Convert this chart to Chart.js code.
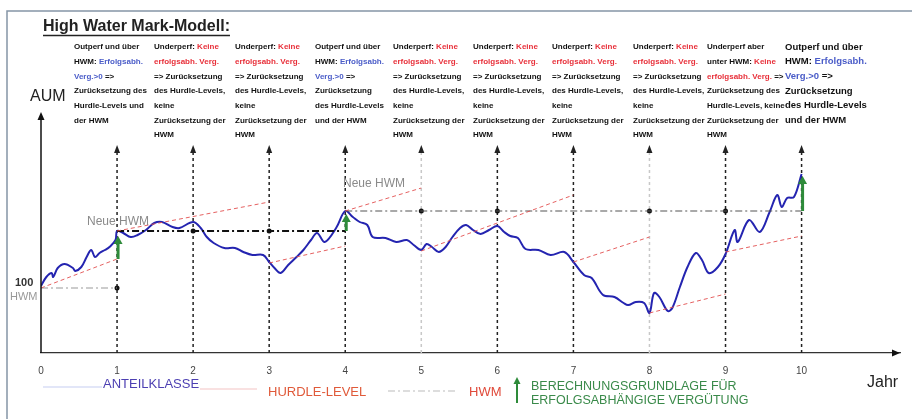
<!DOCTYPE html>
<html>
<head>
<meta charset="utf-8">
<script src="https://cdn.jsdelivr.net/npm/chart.js@4.4.1/dist/chart.umd.min.js"></script>
<style>
  html, body { margin: 0; padding: 0; background: #fff; }
  #wrap { width: 912px; height: 419px; position: relative; }
</style>
</head>
<body>
<div id="wrap"><canvas id="hwmChart"></canvas></div>
<script>
// years on the x axis
var yearTicks = [0, 1, 2, 3, 4, 5, 6, 7, 8, 9, 10];

// fund value (ANTEILKLASSE)
var curveYears = [0, 0.07, 0.14, 0.16, 0.22, 0.31, 0.42, 0.45, 0.53, 0.60, 0.66, 0.71, 0.77, 0.84, 0.90, 0.98, 1.0,
  1.08, 1.18, 1.27, 1.38, 1.49, 1.59, 1.73, 1.82, 2.0,
  2.10, 2.18, 2.27, 2.41, 2.55, 2.66, 2.78, 2.92, 3.0,
  3.07, 3.15, 3.25, 3.36, 3.45, 3.55, 3.63, 3.73, 3.88, 4.0,
  4.10, 4.19, 4.29, 4.36, 4.53, 4.67, 4.81, 4.90, 5.0,
  5.07, 5.14, 5.23, 5.32, 5.41, 5.51, 5.59, 5.68, 5.78, 5.89, 6.0,
  6.09, 6.17, 6.27, 6.37, 6.54, 6.70, 6.88, 7.0,
  7.14, 7.24, 7.39, 7.54, 7.66, 7.72, 7.82, 7.93, 8.0,
  8.06, 8.13, 8.24, 8.30, 8.40, 8.50, 8.61, 8.69, 8.78, 8.90, 9.0,
  9.12, 9.16, 9.31, 9.45, 9.58, 9.68, 9.74, 9.81, 9.90, 10.0];
var curveAUM = [101, 105.5, 107.5, 105.5, 110, 112, 110, 108.5, 110.5, 115.5, 119, 115.5, 117.5, 119, 120.5, 124, 128.5,
  127.5, 125.5, 126.5, 129, 132.5, 133, 130.5, 130, 133,
  130, 125.5, 122.5, 120, 120, 118, 116.5, 116.5, 113,
  110, 107.5, 111.5, 115.5, 119, 124, 127.5, 123, 130, 138.5,
  135.5, 133, 131.5, 125.5, 125, 123, 124, 121.5, 119,
  122, 120.5, 118, 120.5, 125.5, 130, 131.5, 129, 127, 129, 131,
  128, 126, 125, 119.5, 119, 116.5, 118, 113,
  106.5, 105, 96.5, 95.5, 92.5, 91.5, 93, 92.5, 87.5,
  97.5, 95.5, 88.5, 90, 100.5, 110.5, 117.5, 114, 107.5, 110.5, 117,
  129, 123, 134, 128, 138, 146.5, 140.5, 145, 145.5, 157];

// hurdle level segments
var hurdleStartYear = [0, 1, 3, 4, 5, 7, 8, 9];
var hurdleStartAUM = [100, 128.5, 112.5, 138.5, 118.5, 113, 87.5, 118];
var hurdleEndYear = [1, 3, 4, 5, 7, 8, 9, 10];
var hurdleEndAUM = [114.5, 143, 121, 150, 146.5, 125.5, 97, 126];

// high water mark
var hwmStartYear = [0, 1, 4];
var hwmEndYear = [1, 4, 10];
var hwmLevel = [100, 128.5, 138.5];
var hwmDotYears = [1, 2, 3, 5, 6, 8, 9];
var hwmDotAUM = [100, 128.5, 128.5, 138.5, 138.5, 138.5, 138.5];

// basis for performance fee (green arrows)
var feeYears = [1, 4, 10];
var feeFrom = [114.5, 128.5, 138.5];
var feeTo = [126, 137, 156];

// yearly marker lines
var markYears = [1, 2, 3, 4, 5, 6, 7, 8, 9, 10];
var markFaint = [5, 8];
var markTopAUM = 170;

var K = '#111', B = '#4a5cc8', R = '#e8303a';
var outperfA = [[['Outperf und über', K]], [['HWM: ', K], ['Erfolgsabh.', B]], [['Verg.>0', B], [' =>', K]],
  [['Zurücksetzung des', K]], [['Hurdle-Levels und', K]], [['der HWM', K]]];
var outperfB = [[['Outperf und über', K]], [['HWM: ', K], ['Erfolgsabh.', B]], [['Verg.>0', B], [' =>', K]],
  [['Zurücksetzung', K]], [['des Hurdle-Levels', K]], [['und der HWM', K]]];
var underperf = [[['Underperf: ', K], ['Keine', R]], [['erfolgsabh. Verg.', R]], [['=> Zurücksetzung', K]],
  [['des Hurdle-Levels,', K]], [['keine', K]], [['Zurücksetzung der', K]], [['HWM', K]]];
var underHwm = [[['Underperf aber', K]], [['unter HWM: ', K], ['Keine', R]], [['erfolgsabh. Verg.', R], [' =>', K]],
  [['Zurücksetzung des', K]], [['Hurdle-Levels, keine', K]], [['Zurücksetzung der', K]], [['HWM', K]]];
var notes = [outperfA, underperf, underperf, outperfB, underperf, underperf, underperf, underperf, underHwm, outperfB];
var noteX = [74, 154, 235, 315, 393, 473, 552, 633, 707, 785];

function pts(xs, ys) {
  return xs.map(function (x, i) { return { x: x, y: ys[i] }; });
}

var datasets = [];
hurdleStartYear.forEach(function (y0, i) {
  datasets.push({
    data: [{ x: y0, y: hurdleStartAUM[i] }, { x: hurdleEndYear[i], y: hurdleEndAUM[i] }],
    borderColor: 'rgba(226,80,80,0.9)', borderWidth: 1, borderDash: [4, 3], pointRadius: 0
  });
});
var hwmColors = ['#9a9a9a', '#111', '#555'];
var hwmWidths = [1.2, 2, 1.2];
hwmStartYear.forEach(function (y0, i) {
  datasets.push({
    data: [{ x: y0, y: hwmLevel[i] }, { x: hwmEndYear[i], y: hwmLevel[i] }],
    borderColor: hwmColors[i], borderWidth: hwmWidths[i], borderDash: [7, 3, 2, 3], pointRadius: 0
  });
});
datasets.push({
  data: pts(hwmDotYears, hwmDotAUM), showLine: false,
  pointRadius: 2.5, pointBackgroundColor: '#111', pointBorderWidth: 0
});
datasets.push({
  label: 'ANTEILKLASSE', data: pts(curveYears, curveAUM),
  borderColor: '#2424b0', borderWidth: 2, tension: 0.35, pointRadius: 0
});

function tri(ctx, pts, color) {
  ctx.fillStyle = color;
  ctx.beginPath();
  ctx.moveTo(pts[0], pts[1]); ctx.lineTo(pts[2], pts[3]); ctx.lineTo(pts[4], pts[5]);
  ctx.closePath(); ctx.fill();
}

function rich(ctx, segs, x, y) {
  segs.forEach(function (s) {
    ctx.fillStyle = s[1];
    ctx.fillText(s[0], x, y);
    x += ctx.measureText(s[0]).width;
  });
}

var overlay = {
  id: 'overlay',
  beforeDatasetsDraw: function (chart) {
    var ctx = chart.ctx, xs = chart.scales.x, ys = chart.scales.y, area = chart.chartArea;
    var top = ys.getPixelForValue(markTopAUM);
    ctx.save();
    markYears.forEach(function (yr) {
      var px = xs.getPixelForValue(yr);
      var c = markFaint.indexOf(yr) >= 0 ? '#c8c8c8' : '#222';
      ctx.strokeStyle = c; ctx.lineWidth = 1.5; ctx.setLineDash([3, 3]);
      ctx.beginPath(); ctx.moveTo(px, area.bottom); ctx.lineTo(px, top + 4); ctx.stroke();
      tri(ctx, [px, top - 3, px - 3, top + 5, px + 3, top + 5], '#222');
    });
    ctx.restore();
  },
  afterDatasetsDraw: function (chart) {
    var ctx = chart.ctx, xs = chart.scales.x, ys = chart.scales.y;
    ctx.save();
    feeYears.forEach(function (yr, i) {
      var px = xs.getPixelForValue(yr) + 1;
      var p0 = ys.getPixelForValue(feeFrom[i]), p1 = ys.getPixelForValue(feeTo[i]);
      ctx.strokeStyle = '#2e8b3a'; ctx.lineWidth = 3;
      ctx.beginPath(); ctx.moveTo(px, p0); ctx.lineTo(px, p1 + 6); ctx.stroke();
      tri(ctx, [px, p1, px - 4.5, p1 + 8, px + 4.5, p1 + 8], '#2e8b3a');
    });
    ctx.restore();
  },
  afterDraw: function (chart) {
    var ctx = chart.ctx, area = chart.chartArea;
    ctx.save();
    // frame
    ctx.strokeStyle = '#8595a6'; ctx.lineWidth = 1.5;
    ctx.beginPath(); ctx.moveTo(7, 419); ctx.lineTo(7, 11); ctx.lineTo(912, 11); ctx.stroke();
    // axes
    ctx.strokeStyle = '#111'; ctx.lineWidth = 1.5;
    ctx.beginPath(); ctx.moveTo(area.left, area.bottom); ctx.lineTo(area.left, area.top + 6); ctx.stroke();
    tri(ctx, [area.left, area.top, area.left - 3.5, area.top + 8, area.left + 3.5, area.top + 8], '#111');
    tri(ctx, [area.right, area.bottom, area.right - 8, area.bottom - 3.5, area.right - 8, area.bottom + 3.5], '#111');

    ctx.textBaseline = 'middle';
    // title
    ctx.fillStyle = '#222'; ctx.font = 'bold 16px "Liberation Sans", Arial, sans-serif';
    ctx.fillText('High Water Mark-Modell:', 43, 27);
    var tw = ctx.measureText('High Water Mark-Modell:').width;
    ctx.lineWidth = 1.5; ctx.strokeStyle = '#222';
    ctx.beginPath(); ctx.moveTo(43, 35.5); ctx.lineTo(43 + tw, 35.5); ctx.stroke();

    ctx.font = '16px "Liberation Sans", Arial, sans-serif';
    ctx.fillText('AUM', 30, 97);
    ctx.fillText('Jahr', 867, 383);

    // notes per year
    notes.forEach(function (lines, c) {
      ctx.font = (c === 9 ? 'bold 9.5px' : 'bold 8px') + ' "Liberation Sans", Arial, sans-serif';
      lines.forEach(function (segs, l) { rich(ctx, segs, noteX[c], 47 + l * 14.7); });
    });

    ctx.font = 'bold 11px "Liberation Sans", Arial, sans-serif';
    ctx.fillStyle = '#333'; ctx.fillText('100', 15, 283);
    ctx.font = '11px "Liberation Sans", Arial, sans-serif';
    ctx.fillStyle = '#999'; ctx.fillText('HWM', 10, 297);
    ctx.font = '12px "Liberation Sans", Arial, sans-serif';
    ctx.fillStyle = '#8a8a8a';
    ctx.fillText('Neue HWM', 87, 222);
    ctx.fillText('Neue HWM', 343, 184);

    // legend
    ctx.lineWidth = 1.2;
    ctx.strokeStyle = '#c6cdf2';
    ctx.beginPath(); ctx.moveTo(43, 387); ctx.lineTo(102, 387); ctx.stroke();
    ctx.fillStyle = '#4c3fb2'; ctx.font = '13px "Liberation Sans", Arial, sans-serif';
    ctx.fillText('ANTEILKLASSE', 103, 384);
    ctx.strokeStyle = '#f4c4c4';
    ctx.beginPath(); ctx.moveTo(200, 389); ctx.lineTo(257, 389); ctx.stroke();
    ctx.fillStyle = '#e05a3a';
    ctx.fillText('HURDLE-LEVEL', 268, 392);
    ctx.strokeStyle = '#bbb'; ctx.setLineDash([7, 3, 2, 3]);
    ctx.beginPath(); ctx.moveTo(388, 391); ctx.lineTo(457, 391); ctx.stroke();
    ctx.setLineDash([]);
    ctx.fillStyle = '#e04a3a';
    ctx.fillText('HWM', 469, 392);
    ctx.strokeStyle = '#2e8b3a'; ctx.lineWidth = 2;
    ctx.beginPath(); ctx.moveTo(517, 403); ctx.lineTo(517, 383); ctx.stroke();
    tri(ctx, [517, 377, 513.5, 384, 520.5, 384], '#2e8b3a');
    ctx.fillStyle = '#3a8a4a'; ctx.font = '12.5px "Liberation Sans", Arial, sans-serif';
    ctx.fillText('BERECHNUNGSGRUNDLAGE FÜR', 531, 387);
    ctx.fillText('ERFOLGSABHÄNGIGE VERGÜTUNG', 531, 401);
    ctx.restore();
  }
};

var ctx = document.getElementById('hwmChart').getContext('2d');
var hwmChart = new Chart(ctx, {
  type: 'line',
  data: { datasets: datasets },
  plugins: [overlay],
  options: {
    responsive: true,
    maintainAspectRatio: false,
    animation: false,
    layout: { padding: { left: 41, right: 7, top: 112, bottom: 41 } },
    plugins: { legend: { display: false }, tooltip: { enabled: false } },
    scales: {
      x: {
        type: 'linear', min: 0, max: 11.294,
        grid: { display: false, drawTicks: false },
        border: { display: true, color: '#333', width: 1.2 },
        afterFit: function (s) { s.height = 25; },
        ticks: {
          stepSize: 1, autoSkip: false, padding: 12, color: '#444',
          font: { size: 10, family: '"Liberation Sans", Arial, sans-serif' },
          callback: function (v) { return yearTicks.indexOf(v) >= 0 ? String(v) : ''; }
        }
      },
      y: { type: 'linear', min: 67.5, max: 188, display: false }
    }
  }
});
</script>
</body>
</html>
